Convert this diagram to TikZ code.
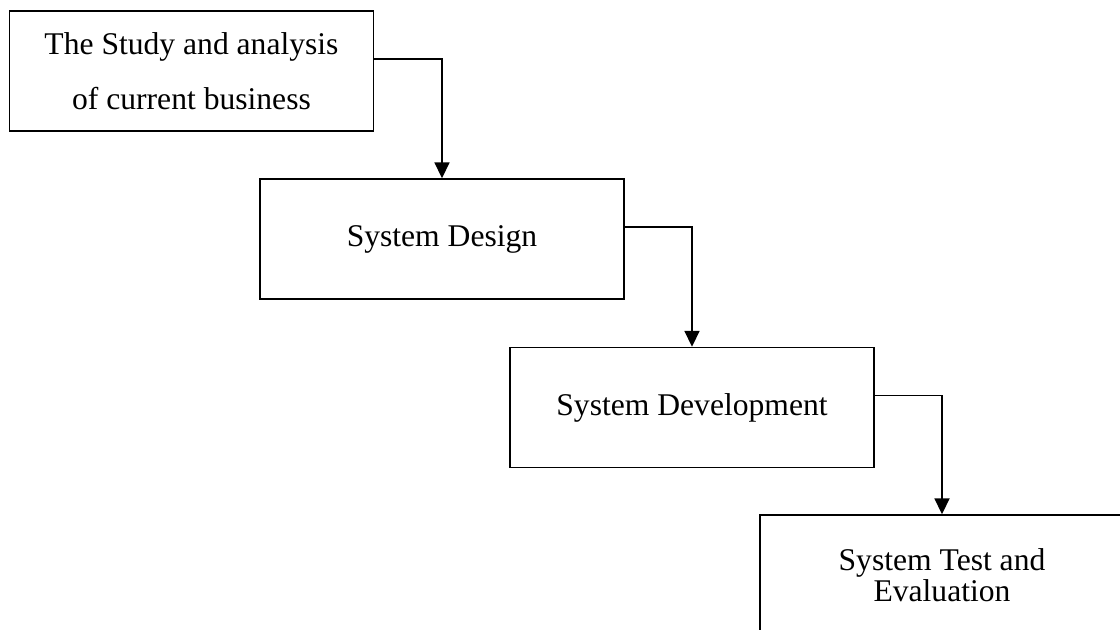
\documentclass[tikz,border=0pt]{standalone}
\usepackage{fontspec}
\setmainfont{Liberation Serif}
\usetikzlibrary{positioning}
\usetikzlibrary{arrows.meta}

\begin{document}
\begin{tikzpicture}[x=0.5pt,y=-0.5pt,
   box/.style={draw,line width=0.7pt,minimum width=182pt,minimum height=60pt,
      align=center,font=\fontsize{15.8}{27.5}\selectfont},
   link/.style={line width=0.9pt,-{Triangle[length=8pt,width=7.5pt]}}]
   \useasboundingbox (0,0) rectangle (1120,630);
   \clip (0,0) rectangle (1120,630);
   %
   \node[box] (study) at (191.5,71) {The Study and analysis\\of current business};
   \node[box] (design) at (442,239) {System Design};
   \node[box] (devel) at (692,407.5) {System Development};
   \node[box,font=\fontsize{15.8}{13.5}\selectfont] (test) at (942,575) {System Test and\\Evaluation};
   %
   \draw[link] ([yshift=6pt]study.east) -| (design.north);
   \draw[link] ([yshift=6pt]design.east) -| (devel.north);
   \draw[link] ([yshift=6pt]devel.east) -| (test.north);
   %
\end{tikzpicture}
\end{document}
